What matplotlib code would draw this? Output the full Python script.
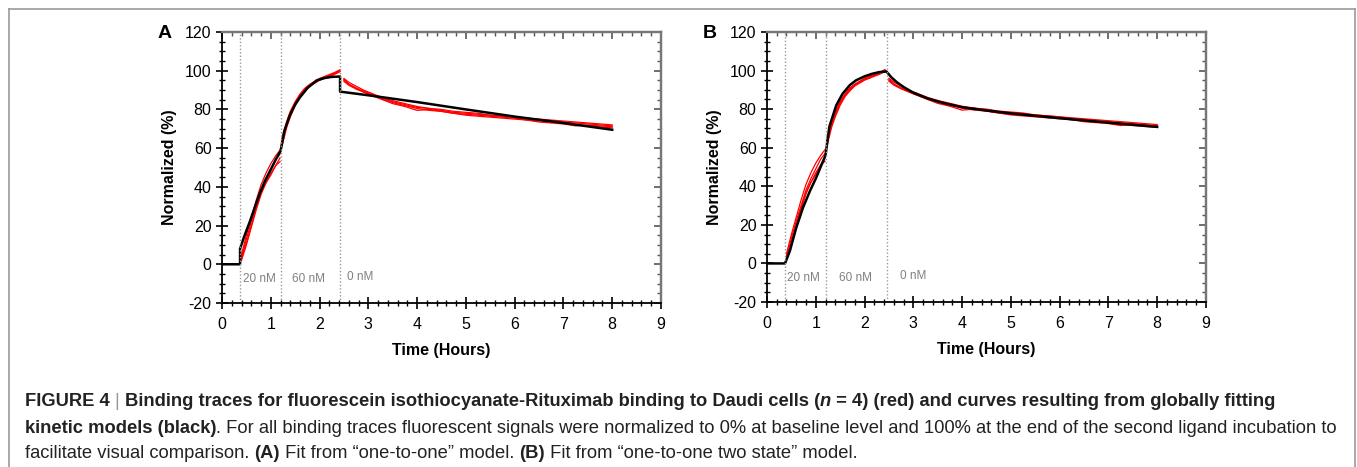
import matplotlib
matplotlib.use("Agg")
import matplotlib.pyplot as plt
from matplotlib.lines import Line2D
from matplotlib.ticker import MultipleLocator

plt.rcParams['font.family'] = ['Liberation Sans', 'DejaVu Sans']
plt.rcParams['axes.unicode_minus'] = False

# red traces (n = 4), same data in both panels, one segment per phase
t_20nm = [0.40, 0.45, 0.50, 0.60, 0.70, 0.80, 0.90, 1.00, 1.10, 1.19]
red_20nm = [
    [2, 6, 10, 19, 28, 36, 42, 46, 51, 55],
    [4, 8, 13, 22, 30, 38, 44, 49, 54, 57],
    [5, 10, 15, 24, 33, 41, 47, 52, 56, 59],
    [3, 7, 11, 20, 29, 37, 42, 47, 51, 53],
]
t_60nm = [1.22, 1.27, 1.33, 1.40, 1.50, 1.60, 1.70, 1.80, 1.90, 2.00, 2.10, 2.20, 2.30, 2.42]
red_60nm = [
    [62, 67, 72, 77, 83, 87, 90, 92.5, 94, 95.5, 96.5, 97.5, 98.5, 100],
    [64, 69, 74, 79, 84, 88, 91, 93, 94.5, 96, 97, 98, 99, 100.5],
    [60, 65, 71, 76, 82, 86.5, 89.5, 92, 93.5, 95, 96, 97, 98, 99.5],
    [63, 68, 73, 78, 83.5, 87.5, 90.5, 92.5, 94, 95.5, 96.5, 97.5, 98.5, 100],
]
t_0nm = [2.50, 2.60, 2.75, 2.90, 3.10, 3.30, 3.50, 3.75, 4.00, 4.25, 4.50, 4.75, 5.00,
         5.25, 5.50, 5.75, 6.00, 6.25, 6.50, 6.75, 7.00, 7.25, 7.50, 7.75, 8.00]
red_0nm = [
    [95.5, 93, 91, 89.5, 87.5, 85.5, 84, 82.5, 81, 80.5, 79.5, 78.5, 78, 77.5, 77, 76.5, 76, 75, 74.5, 74, 73.5, 73, 72.5, 72, 71.5],
    [94.5, 92.5, 90.5, 89, 87, 85, 83.5, 82, 80.5, 79.5, 79, 78, 77.5, 77, 76.5, 76, 75.5, 74.5, 74, 73.5, 73, 72, 71.5, 71, 70.5],
    [96, 94, 92, 90, 88, 86, 84.5, 83, 81.5, 80.5, 80, 79, 78.5, 78, 77, 76.5, 76, 75.5, 75, 74.5, 74, 73.5, 73, 72.5, 72],
    [95, 93, 91, 89, 87, 85, 83, 81.5, 79.5, 80, 79, 78, 77, 76.5, 76, 75.5, 75, 74.5, 73.5, 73, 72.5, 71.5, 72, 71.5, 71],
]

# black fits
fit_a_t = [0, 0.37, 0.37, 0.45, 0.57, 0.68, 0.78, 0.88, 0.99, 1.10, 1.20, 1.28, 1.39, 1.50, 1.60,
           1.75, 1.94, 2.10, 2.25, 2.42, 2.42, 3.0, 4.0, 5.0, 6.0, 7.0, 8.0]
fit_a_y = [0, 0, 8, 14, 22, 30, 37, 43, 48.5, 54, 58.5, 69, 77, 82.5, 86.3,
           91, 95, 96.2, 96.8, 97, 89.2, 87.3, 83.8, 80.0, 76.3, 73.0, 69.5]
fit_b_t = [0, 0.37, 0.47, 0.60, 0.74, 0.88, 1.01, 1.10, 1.20, 1.28, 1.42, 1.55, 1.70, 1.83, 2.00,
           2.15, 2.30, 2.45, 2.55, 2.66, 2.80, 3.0, 3.3, 3.6, 4.0, 4.5, 5.0, 6.0, 7.0, 8.0]
fit_b_y = [0, 0, 6.5, 18.5, 29, 37.5, 44.5, 50, 56, 71, 82, 88, 92.5, 95, 97,
           98.3, 99.2, 99.5, 96.5, 94, 91.5, 88.5, 85.5, 83.3, 81, 79.3, 77.8, 75.3, 73, 70.8]

phase_a = [0.37, 1.21, 2.41]
phase_b = [0.37, 1.21, 2.47]
phase_labels = ['20 nM', '60 nM', '0 nM']
label_x_a = [0.76, 1.77, 2.83]
label_x_b = [0.74, 1.81, 2.99]
label_y = [-7.5, -7.5, -6.5]


def draw_panel(ax, fit_t, fit_y, phases, label_x, letter):
    for tr in red_20nm:
        ax.plot(t_20nm, tr, color='red', lw=0.9)
    for tr in red_60nm:
        ax.plot(t_60nm, tr, color='red', lw=0.9)
    for tr in red_0nm:
        ax.plot(t_0nm, tr, color='red', lw=0.9)
    ax.plot(fit_t, fit_y, color='black', lw=1.8)

    for x in phases:
        ax.axvline(x, color='#999999', lw=1, ls=(0, (1, 1.5)))
    for txt, x, y in zip(phase_labels, label_x, label_y):
        ax.text(x, y, txt, ha='center', va='center', fontsize=8.5, color='#808080')

    ax.set_xlim(0, 9)
    ax.set_ylim(-20, 120)
    ax.xaxis.set_major_locator(MultipleLocator(1))
    ax.xaxis.set_minor_locator(MultipleLocator(0.2))
    ax.yaxis.set_major_locator(MultipleLocator(20))
    ax.yaxis.set_minor_locator(MultipleLocator(5))
    ax.tick_params(which='both', direction='inout', labelsize=11.5)
    ax.tick_params(which='major', length=8, width=1.2)
    ax.tick_params(which='minor', length=4, width=1)
    ax.tick_params(axis='x', pad=6)
    for s in ['left', 'bottom']:
        ax.spines[s].set_linewidth(1.3)
    for s in ['top', 'right']:
        ax.spines[s].set_linewidth(1.6)
        ax.spines[s].set_color('#777777')

    # top / right: inward grey ticks, no labels
    top = ax.secondary_xaxis('top')
    right = ax.secondary_yaxis('right')
    top.xaxis.set_major_locator(MultipleLocator(1))
    top.xaxis.set_minor_locator(MultipleLocator(0.2))
    right.yaxis.set_major_locator(MultipleLocator(20))
    right.yaxis.set_minor_locator(MultipleLocator(5))
    for sec in (top, right):
        sec.tick_params(which='both', direction='in', labelsize=0, color='#555555')
        sec.tick_params(which='major', length=5, width=1.2)
        sec.tick_params(which='minor', length=3, width=1)
        for sp in sec.spines.values():
            sp.set_color('#777777')
            sp.set_linewidth(1.6)
    top.set_xticklabels([])
    right.set_yticklabels([])

    ax.set_xlabel('Time (Hours)', fontsize=11.5, fontweight='bold', labelpad=8)
    ax.set_ylabel('Normalized (%)', fontsize=11.5, fontweight='bold', labelpad=6)
    ax.text(-0.13, 0.995, letter, transform=ax.transAxes, fontsize=14, fontweight='bold',
            ha='center', va='center')


fig = plt.figure(figsize=(13.57, 4.67), dpi=100)
ax_a = fig.add_axes([0.1636, 0.3512, 0.3235, 0.5803])
ax_b = fig.add_axes([0.5652, 0.3533, 0.3235, 0.5782])
draw_panel(ax_a, fit_a_t, fit_a_y, phase_a, label_x_a, 'A')
draw_panel(ax_b, fit_b_t, fit_b_y, phase_b, label_x_b, 'B')

# outer frame (open at the bottom)
W, H = 1357, 467
fr = dict(color='#999999', lw=1.2, transform=fig.transFigure)
fig.add_artist(Line2D([9 / W, 9 / W], [0, 1 - 9 / H], **fr))
fig.add_artist(Line2D([9 / W, 1355 / W], [1 - 9 / H, 1 - 9 / H], **fr))
fig.add_artist(Line2D([1355 / W, 1355 / W], [0, 1 - 9 / H], **fr))

# caption, built from runs of bold and regular text
cap_color = '#222222'
fs = 13.2
lines = [
    [('FIGURE 4 ', 'bold', 'normal'), ('| ', 'normal', 'normal'),
     ('Binding traces for fluorescein isothiocyanate-Rituximab binding to Daudi cells (', 'bold', 'normal'),
     ('n', 'bold', 'italic'), (' = 4) (red) and curves resulting from globally fitting', 'bold', 'normal')],
    [('kinetic models (black)', 'bold', 'normal'),
     ('. For all binding traces fluorescent signals were normalized to 0% at baseline level and 100% at the end of the second ligand incubation to', 'normal', 'normal')],
    [('facilitate visual comparison. ', 'normal', 'normal'), ('(A)', 'bold', 'normal'),
     (' Fit from \u201cone-to-one\u201d model. ', 'normal', 'normal'), ('(B)', 'bold', 'normal'),
     (' Fit from \u201cone-to-one two state\u201d model.', 'normal', 'normal')],
]
line_y = [406, 433, 458]  # baselines in pixels from top
renderer = fig.canvas.get_renderer()
for runs, yp in zip(lines, line_y):
    xp = 25
    for txt, weight, style in runs:
        col = '#999999' if txt.startswith('|') else cap_color
        t = fig.text(xp / W, 1 - yp / H, txt, fontsize=fs, fontweight=weight,
                     fontstyle=style, color=col, va='baseline', ha='left')
        # trailing spaces are not measured, so add them by hand
        w = t.get_window_extent(renderer).width
        xp += w

fig.savefig('out.png', dpi=100)
